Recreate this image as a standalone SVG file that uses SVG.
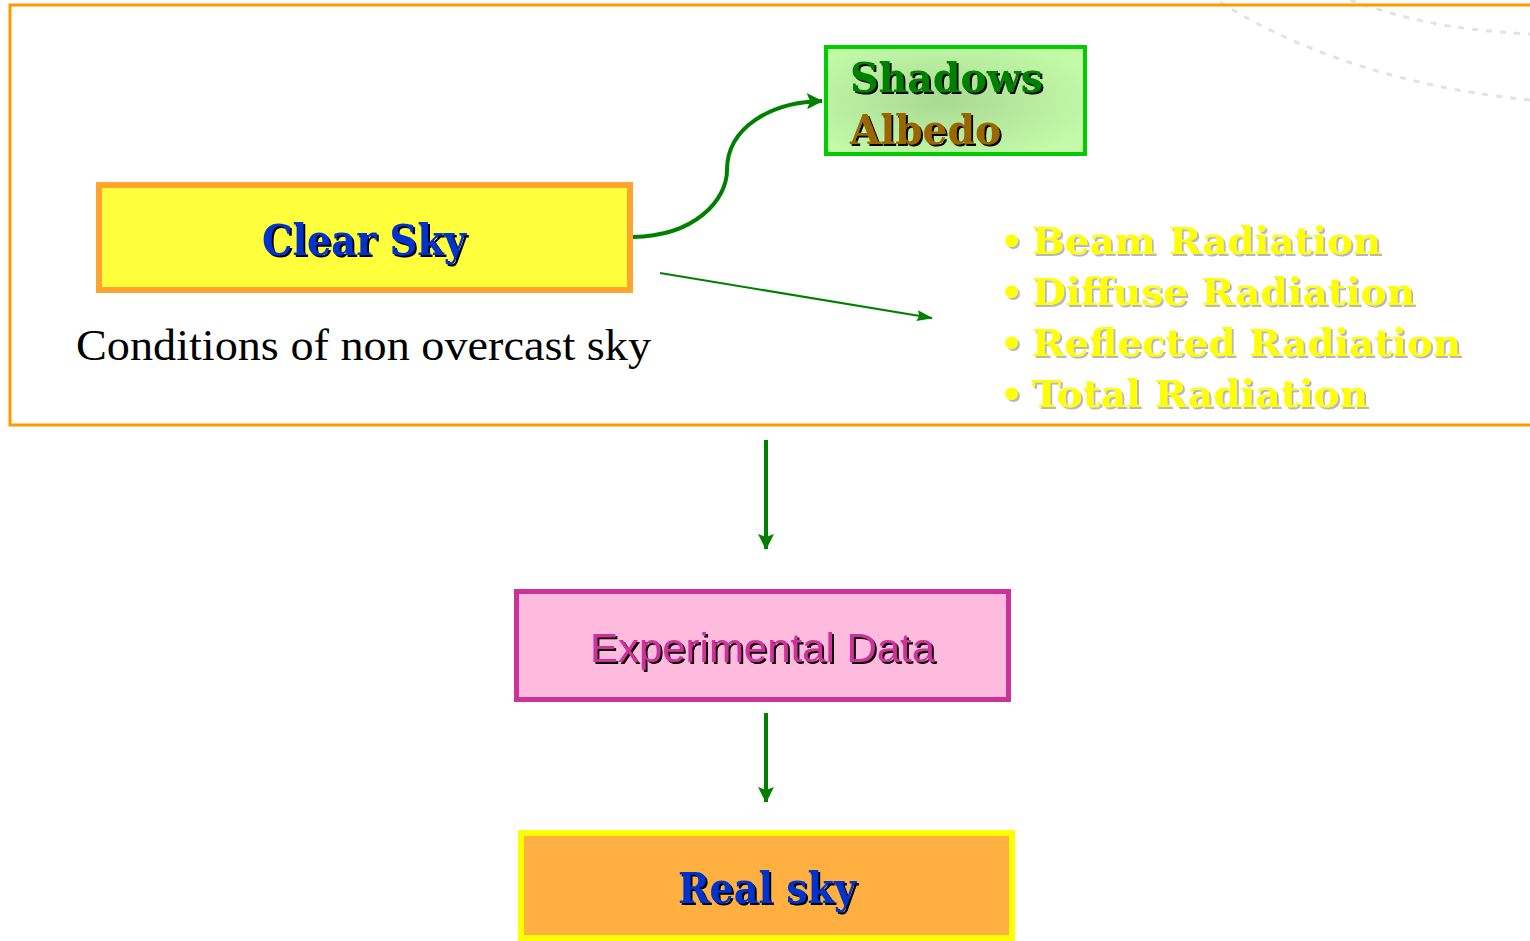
<svg xmlns="http://www.w3.org/2000/svg" width="1530" height="941" viewBox="0 0 1530 941">
<style>
.bold{font-family:"DejaVu Serif","Liberation Serif",serif;font-weight:bold}
.conn{fill:none;stroke:#008000}
.deco{fill:none;stroke:#E2E2E2;stroke-width:3;stroke-dasharray:6 8}
</style>
<defs>
<filter id="sh" x="-10%" y="-10%" width="120%" height="130%">
<feDropShadow dx="2" dy="2" stdDeviation="0.3" flood-color="#000" flood-opacity="1"/>
</filter>
<filter id="shg" x="-10%" y="-10%" width="120%" height="130%">
<feDropShadow dx="2" dy="2" stdDeviation="0.3" flood-color="#B8B8B8" flood-opacity="1"/>
</filter>
<radialGradient id="gg" cx="0.45" cy="0.5" r="0.6">
<stop offset="0" stop-color="#A9D992"/>
<stop offset="1" stop-color="#C2FAA8"/>
</radialGradient>
<marker id="ah" viewBox="0 0 16 16" refX="15" refY="8" markerWidth="16" markerHeight="16" orient="auto" markerUnits="userSpaceOnUse">
<path d="M0,0 L16,8 L0,16 L3,8 z" fill="#008000"/>
</marker>
<marker id="ah2" viewBox="0 0 16 11" refX="15" refY="5.5" markerWidth="16" markerHeight="11" orient="auto" markerUnits="userSpaceOnUse">
<path d="M0,0 L16,5.5 L0,11 L2,5.5 z" fill="#008000"/>
</marker>
</defs>
<rect width="1530" height="941" fill="#fff"/>
<g id="decoration">
<path class="deco" d="M1220,2 C1280,40 1380,85 1530,100"/>
<path class="deco" d="M1350,0 C1400,18 1450,30 1530,34"/>
</g>
<g id="frame">
<rect x="10" y="5" width="1540" height="420" fill="none" stroke="#FF9900" stroke-width="3"/>
</g>
<g id="connectors">
<path class="conn" stroke-width="4" marker-end="url(#ah)" d="M633,237 C695,236 727,200 727,170 C727,128 770,102 822,101"/>
<line class="conn" stroke-width="2" marker-end="url(#ah2)" x1="660" y1="273" x2="932" y2="318"/>
<line class="conn" stroke-width="4" marker-end="url(#ah)" x1="766" y1="440" x2="766" y2="549"/>
<line class="conn" stroke-width="4" marker-end="url(#ah)" x1="766" y1="713" x2="766" y2="802"/>
</g>
<g id="clear-sky">
<rect x="99" y="185" width="531" height="105" fill="#FFFF3C" stroke="#FFA42E" stroke-width="6"/>
<text class="bold" x="262" y="255" font-size="42" fill="#0033CC" filter="url(#sh)" textLength="204" lengthAdjust="spacingAndGlyphs">Clear Sky</text>
</g>
<g id="shadows-albedo">
<rect x="826" y="47" width="259" height="107" fill="url(#gg)" stroke="#00CC00" stroke-width="4"/>
<text class="bold" x="850" y="92" font-size="41" fill="#008000" filter="url(#sh)" textLength="193" lengthAdjust="spacingAndGlyphs">Shadows</text>
<text class="bold" x="850" y="144" font-size="41" fill="#996600" filter="url(#sh)" textLength="151" lengthAdjust="spacingAndGlyphs">Albedo</text>
</g>
<g id="radiation-list" class="bold" font-size="38" fill="#FFFF00" filter="url(#shg)">
<text x="1000" y="253" font-size="36">•</text>
<text x="1032" y="254" textLength="349" lengthAdjust="spacingAndGlyphs">Beam Radiation</text>
<text x="1000" y="304" font-size="36">•</text>
<text x="1032" y="305" textLength="383" lengthAdjust="spacingAndGlyphs">Diffuse Radiation</text>
<text x="1000" y="355" font-size="36">•</text>
<text x="1032" y="356" textLength="429" lengthAdjust="spacingAndGlyphs">Reflected Radiation</text>
<text x="1000" y="406" font-size="36">•</text>
<text x="1032" y="407" textLength="336" lengthAdjust="spacingAndGlyphs">Total Radiation</text>
</g>
<g id="caption">
<text x="76" y="360" font-family="Liberation Serif, serif" font-size="44" fill="#000" textLength="575" lengthAdjust="spacingAndGlyphs">Conditions of non overcast sky</text>
</g>
<g id="experimental-data">
<rect x="516.5" y="591.5" width="492" height="108" fill="#FFBBDD" stroke="#CC3399" stroke-width="5"/>
<text x="590" y="662" font-family="Liberation Sans, Arial, sans-serif" font-size="40" fill="#CC3399" filter="url(#sh)" textLength="345" lengthAdjust="spacingAndGlyphs">Experimental Data</text>
</g>
<g id="real-sky">
<rect x="521" y="833" width="491" height="105" fill="#FFB040" stroke="#FFFF00" stroke-width="6"/>
<text class="bold" x="678" y="903" font-size="42" fill="#0033CC" filter="url(#sh)" textLength="178" lengthAdjust="spacingAndGlyphs">Real sky</text>
</g>
</svg>
